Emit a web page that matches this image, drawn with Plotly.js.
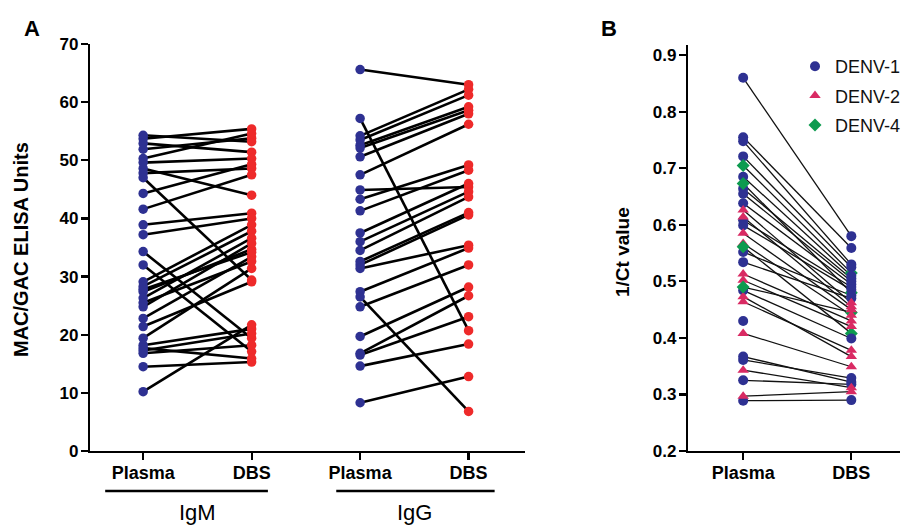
<!DOCTYPE html>
<html>
<head>
<meta charset="utf-8">
<script src="https://cdn.plot.ly/plotly-3.0.1.min.js"></script>
<style>html,body{margin:0;padding:0;background:#fff}#chart{width:912px;height:525px}</style>
</head>
<body>
<div id="chart"></div>
<script>
// ---- Panel A data (MAC/GAC ELISA Units) ----
const groupLabels = ["IgM", "IgG"];
const sampleLabels = ["Plasma", "DBS"];
const igmPlasma = [54.3, 53.7, 52.9, 51.9, 50.3, 49.6, 48.6, 47.8, 47.0, 44.3, 41.6, 38.9, 37.2, 34.3, 32.0, 29.1, 28.3, 27.4, 26.3, 24.8, 22.8, 21.4, 19.4, 18.2, 17.7, 16.8, 14.5, 10.2, 17.3, 27.8, 25.5];
const igmDBS    = [53.2, 55.4, 51.4, 53.8, 54.6, 50.3, 44.0, 48.6, 29.4, 49.3, 47.5, 40.9, 40.0, 19.4, 17.1, 38.9, 37.8, 34.7, 36.6, 35.7, 33.4, 29.1, 31.4, 21.0, 15.9, 18.2, 15.3, 21.7, 20.2, 34.2, 32.6];
const iggPlasma = [65.6, 57.2, 54.2, 53.5, 52.6, 52.1, 50.6, 47.5, 44.9, 43.3, 41.3, 37.5, 36.0, 34.5, 32.6, 32.0, 31.4, 27.4, 26.5, 24.8, 19.7, 16.8, 14.6, 8.3, 16.5];
const iggDBS    = [63.0, 20.7, 62.2, 61.2, 59.2, 58.6, 58.0, 56.2, 45.4, 49.2, 48.3, 46.0, 44.6, 43.7, 41.0, 40.6, 35.4, 34.9, 6.8, 32.0, 28.2, 26.7, 18.4, 12.8, 23.1];

// ---- Panel B data (1/Ct value) ----
const serotypes = ["DENV-1", "DENV-2", "DENV-4"];
const ctPlasma = [0.860, 0.755, 0.748, 0.721, 0.705, 0.685, 0.673, 0.664, 0.655, 0.638, 0.626, 0.614, 0.608, 0.599, 0.585, 0.567, 0.561, 0.552, 0.534, 0.513, 0.502, 0.490, 0.484, 0.473, 0.464, 0.430, 0.408, 0.367, 0.361, 0.343, 0.325, 0.297, 0.289];
const ctDBS    = [0.580, 0.559, 0.530, 0.525, 0.515, 0.510, 0.480, 0.505, 0.500, 0.495, 0.462, 0.455, 0.490, 0.485, 0.450, 0.440, 0.408, 0.475, 0.470, 0.430, 0.420, 0.445, 0.399, 0.367, 0.378, null, 0.349, 0.322, 0.329, 0.312, 0.318, 0.305, 0.290];
const ctType   = ["DENV-1","DENV-1","DENV-1","DENV-1","DENV-4","DENV-1","DENV-4","DENV-1","DENV-1","DENV-1","DENV-2","DENV-2","DENV-1","DENV-1","DENV-2","DENV-2","DENV-4","DENV-1","DENV-1","DENV-2","DENV-2","DENV-4","DENV-1","DENV-2","DENV-2","DENV-1","DENV-2","DENV-1","DENV-1","DENV-2","DENV-1","DENV-2","DENV-1"];

const BLUE = "#2e3192", RED = "#ee2a2a", PINK = "#d92a63", GREEN = "#0d9b4f";
const typeStyle = {"DENV-1": {symbol: "circle", color: BLUE, size: 10},
                   "DENV-2": {symbol: "triangle-up", color: PINK, size: 10},
                   "DENV-4": {symbol: "diamond", color: GREEN, size: 10}};
const FONT = "Liberation Sans, Arial, sans-serif";

function pairs(p, d, xp, xd) {
  const x = [], y = [];
  for (let i = 0; i < p.length; i++) { x.push(xp, xd, null); y.push(p[i], d[i], null); }
  return {x, y};
}
const igmPairs = pairs(igmPlasma, igmDBS, 1, 2);
const iggPairs = pairs(iggPlasma, iggDBS, 3, 4);

const traces = [];
traces.push({x: igmPairs.x.concat(iggPairs.x), y: igmPairs.y.concat(iggPairs.y), mode: "lines",
  line: {color: "#000", width: 2.6}, xaxis: "x", yaxis: "y", showlegend: false, hoverinfo: "skip"});
traces.push({x: igmPlasma.map(() => 1).concat(iggPlasma.map(() => 3)), y: igmPlasma.concat(iggPlasma),
  mode: "markers", marker: {color: BLUE, size: 9.5}, xaxis: "x", yaxis: "y", showlegend: false});
traces.push({x: igmDBS.map(() => 2).concat(iggDBS.map(() => 4)), y: igmDBS.concat(iggDBS),
  mode: "markers", marker: {color: RED, size: 9.5}, xaxis: "x", yaxis: "y", showlegend: false});

const bx = [], by = [];
for (let i = 0; i < ctPlasma.length; i++) {
  if (ctDBS[i] !== null) { bx.push(1, 2, null); by.push(ctPlasma[i], ctDBS[i], null); }
}
traces.push({x: bx, y: by, mode: "lines", line: {color: "#111", width: 1.3},
  xaxis: "x2", yaxis: "y2", showlegend: false, hoverinfo: "skip"});

function markerTrace(t, col, showLeg, rank) {
  const xs = [], ys = [];
  for (let i = 0; i < ctPlasma.length; i++) {
    if (ctType[i] !== t) continue;
    const v = col === 1 ? ctPlasma[i] : ctDBS[i];
    if (v === null) continue;
    xs.push(col); ys.push(v);
  }
  const s = typeStyle[t];
  return {x: xs, y: ys, mode: "markers", name: t, legendgroup: t, showlegend: showLeg, legendrank: rank,
    marker: {symbol: s.symbol, color: s.color, size: s.size}, xaxis: "x2", yaxis: "y2"};
}
// DBS column: green underneath, then blue, red on top
traces.push(markerTrace("DENV-4", 2, false, 3));
traces.push(markerTrace("DENV-1", 2, false, 1));
traces.push(markerTrace("DENV-2", 2, false, 2));
// Plasma column (carries the legend entries)
traces.push(markerTrace("DENV-1", 1, true, 1));
traces.push(markerTrace("DENV-2", 1, true, 2));
traces.push(markerTrace("DENV-4", 1, true, 3));

const W = 912, H = 525;
const numFont = {family: FONT, size: 17, color: "#000", weight: "bold"};
const catFont = {family: FONT, size: 18, color: "#000", weight: "bold"};
const axisCommon = {showline: true, linecolor: "#000", linewidth: 2.2, ticks: "outside", ticklen: 7,
  tickwidth: 2.2, tickcolor: "#000", showgrid: false, zeroline: false, fixedrange: true, tickfont: numFont};

const layout = {
  width: W, height: H, margin: {l: 0, r: 0, t: 0, b: 0},
  paper_bgcolor: "#fff", plot_bgcolor: "#fff",
  font: {family: FONT, color: "#000"},
  xaxis: Object.assign({}, axisCommon, {domain: [90 / W, 525 / W], range: [0.51, 4.52],
    tickvals: [1, 2, 3, 4], ticktext: [sampleLabels[0], sampleLabels[1], sampleLabels[0], sampleLabels[1]],
    tickfont: catFont, ticklabelstandoff: -3, anchor: "y"}),
  yaxis: Object.assign({}, axisCommon, {domain: [(H - 451) / H, (H - 44) / H], range: [0, 70], dtick: 10,
    ticklabelstandoff: -1, anchor: "x"}),
  xaxis2: Object.assign({}, axisCommon, {domain: [688 / W, 900 / W], range: [0.49, 2.45],
    tickvals: [1, 2], ticktext: sampleLabels, tickfont: catFont, ticklabelstandoff: -3, anchor: "y2"}),
  yaxis2: Object.assign({}, axisCommon, {domain: [(H - 451) / H, (H - 45) / H], range: [0.2, 0.918],
    tickvals: [0.2, 0.3, 0.4, 0.5, 0.6, 0.7, 0.8, 0.9], ticktext: ["0.2","0.3","0.4","0.5","0.6","0.7","0.8","0.9"],
    ticklabelstandoff: -1, anchor: "x2"}),
  showlegend: true,
  legend: {x: 795 / W, y: (H - 48) / H, xanchor: "left", yanchor: "top", bgcolor: "rgba(0,0,0,0)",
    font: {family: FONT, size: 18, color: "#111"}, itemwidth: 30, tracegroupgap: 3, itemclick: false},
  shapes: [
    {type: "line", xref: "x", yref: "paper", x0: 0.65, x1: 2.15, y0: (H - 491) / H, y1: (H - 491) / H, line: {color: "#000", width: 2.6}},
    {type: "line", xref: "x", yref: "paper", x0: 2.78, x1: 4.24, y0: (H - 491) / H, y1: (H - 491) / H, line: {color: "#000", width: 2.6}}
  ],
  annotations: [
    {text: groupLabels[0], xref: "x", yref: "paper", x: 1.5, y: (H - 512) / H, yanchor: "middle", showarrow: false,
      font: {family: FONT, size: 22, color: "#000"}},
    {text: groupLabels[1], xref: "x", yref: "paper", x: 3.5, y: (H - 512) / H, yanchor: "middle", showarrow: false,
      font: {family: FONT, size: 22, color: "#000"}},
    {text: "MAC/GAC ELISA Units", xref: "paper", yref: "paper", x: 21 / W, y: (H - 250) / H, textangle: -90,
      xanchor: "center", yanchor: "middle", showarrow: false, font: {family: FONT, size: 20, color: "#000", weight: "bold"}},
    {text: "1/Ct value", xref: "paper", yref: "paper", x: 622 / W, y: (H - 252) / H, textangle: -90,
      xanchor: "center", yanchor: "middle", showarrow: false, font: {family: FONT, size: 19, color: "#000", weight: "bold"}},
    {text: "A", xref: "paper", yref: "paper", x: 22 / W, y: (H - 28) / H, yanchor: "middle", showarrow: false,
      font: {family: FONT, size: 22, color: "#000", weight: "bold"}},
    {text: "B", xref: "paper", yref: "paper", x: 619 / W, y: (H - 28) / H, yanchor: "middle", showarrow: false,
      font: {family: FONT, size: 22, color: "#000", weight: "bold"}}
  ]
};

Plotly.newPlot("chart", traces, layout, {displayModeBar: false, staticPlot: true});
</script>
</body>
</html>
